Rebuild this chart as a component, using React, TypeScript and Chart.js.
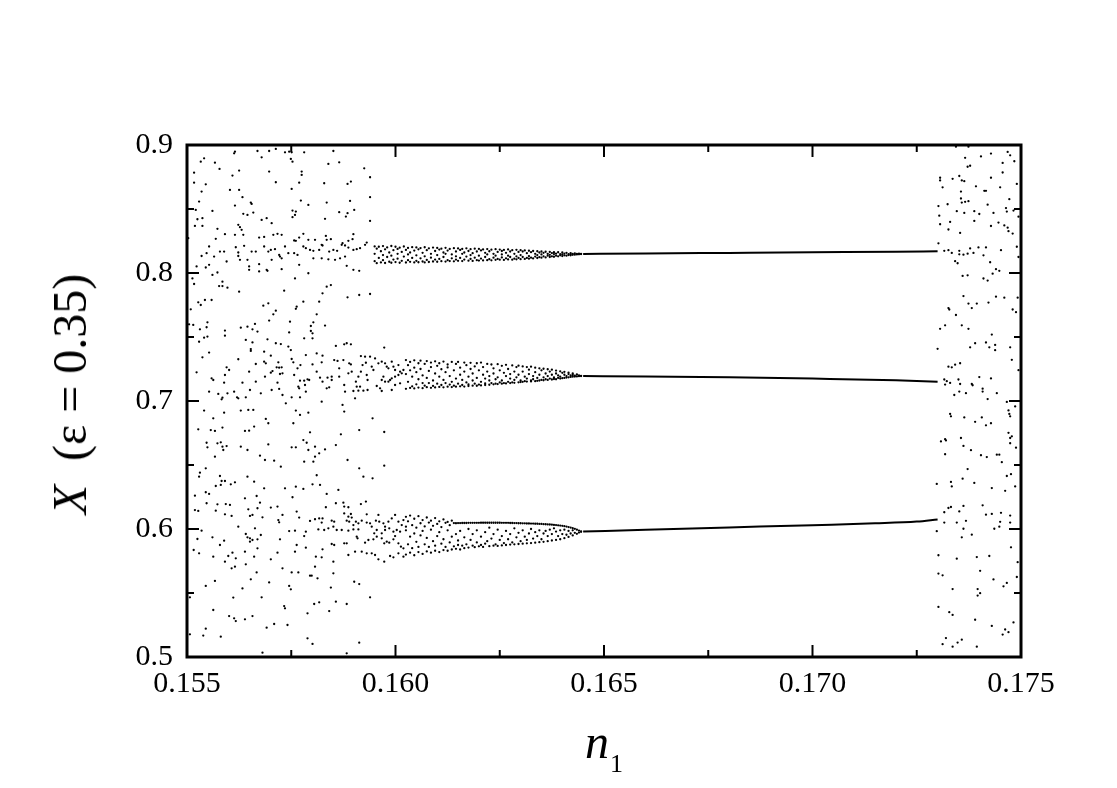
import React, { useEffect, useRef } from "react";
import { Chart, registerables } from "chart.js";

Chart.register(...registerables);

const FONT = '"Liberation Serif", "DejaVu Serif", "Times New Roman", serif';

const X_MIN = 0.155;
const X_MAX = 0.175;
const Y_MIN = 0.5;
const Y_MAX = 0.9;

const xMajorTicks = [0.155, 0.16, 0.165, 0.17, 0.175];
const xMinorTicks = [0.1575, 0.1625, 0.1675, 0.1725];
const yMajorTicks = [0.5, 0.6, 0.7, 0.8, 0.9];
const yMinorTicks = [0.55, 0.65, 0.75, 0.85];

const xTitleMain = "n";
const xTitleSub = "1";
const yTitleMain = "X";
const yTitleRest = "  (\u03b5 = 0.35)";

// chaotic region, left part (n1 < ~0.1595), upper third
const chaosLeftUpper: number[][] = [
  [.15615,.8948],[.15613,.8935],[.15669,.8953],[.15679,.8904],[.15697,.8953],[.15713,.8969],[.15735,.8943],[.15745,.8948],[.15751,.8943],[.15781,.8943],[.15851,.8953],[.15533,.887],[.15541,.8896],[.15567,.8862],[.15578,.8813],[.15609,.8761],[.15625,.88],[.15697,.8792],[.15749,.8891],[.15753,.887],[.15775,.8792],[.15775,.8766],[.15839,.8852],[.15865,.8865],[.15925,.8818],[.15939,.8748],[.15517,.8784],[.15517,.8706],[.15545,.8693],[.15535,.8636],[.15603,.8649],[.15625,.8649],[.15713,.8709],[.15751,.8657],[.15769,.8706],[.15829,.8701],[.15885,.8696],[.15893,.8714],[.15939,.8592],[.15529,.8558],[.15633,.8592],[.15653,.855],[.15655,.854],[.15615,.8527],[.15773,.8566],[.15791,.8532],[.15835,.855],[.15891,.8563],[.15521,.8493],[.15561,.8485],[.15635,.8462],[.15645,.8454],[.15659,.8472],[.15679,.8415],[.15691,.8428],[.15703,.8389],[.15753,.8488],[.15761,.848],[.15759,.8454],[.15753,.8436],[.15865,.8475],[.15885,.8467],[.15881,.8441],[.15901,.8493],[.15831,.8423],[.15939,.8407],[.15525,.842],[.15537,.8428],[.15519,.8368],[.15537,.8368],[.15623,.8376],[.15627,.8358],[.15631,.8337],[.15573,.8345],[.15591,.8303],[.15615,.8298],[.15635,.8298],[.15673,.8277],[.15685,.8282],[.15707,.8298],[.15717,.8306],[.15727,.8298],[.15503,.8272],[.15569,.8267],[.15779,.8306],[.15769,.8277],[.15757,.8254],[.15761,.8251],[.15791,.8259],[.15807,.8259],[.15823,.822],[.15833,.829],[.15835,.8259],[.15845,.8264],[.15899,.8303],[.15897,.8264],[.15887,.8251],[.15873,.8233],[.15553,.8207],[.15547,.8155],[.15535,.8133],[.15565,.8128],[.15579,.8167],[.15589,.8167],[.15617,.8201],[.15623,.816],[.15623,.8133],[.15637,.8212],[.15655,.8167],[.15665,.8167],[.15685,.8207],[.15695,.8167],[.15701,.818],[.15711,.8186],[.15721,.8141],[.15723,.8128],[.15727,.8115],[.15735,.8207],[.15743,.8155],[.15757,.8155],[.15765,.8141],[.15779,.8207],[.15785,.8194],[.15795,.818],[.15803,.8173],[.15817,.818],[.15825,.8215],[.15841,.8167],[.15851,.818],[.1586,.8173],[.15871,.822],[.15879,.8215],[.15887,.8199],[.15899,.818],[.15907,.8186],[.15915,.8194],[.15927,.822],[.15931,.8238],[.15523,.8051],[.15545,.8043],[.15553,.8064],[.15561,.7985],[.15573,.8004],[.15595,.809],[.15627,.8103],[.15645,.8103],[.15649,.8051],[.15649,.8025],[.15673,.8069],[.15673,.8012],[.15691,.8025],[.15693,.8017],[.15703,.8103],[.15727,.803],[.15769,.8064],[.15791,.7998],[.15803,.8115],[.15823,.8115],[.15839,.8107],[.15855,.8103],[.15867,.8115],[.15879,.8128],[.15883,.8056],[.15899,.8025],[.15913,.8017],[.15513,.7958],[.15517,.7914],[.15577,.7898],[.15585,.7898],[.15585,.7932],[.15597,.7885],[.15625,.7854],[.15733,.7862],[.15759,.7958],[.15835,.7893],[.15845,.7906],[.15825,.7841],[.15885,.781],[.15913,.7828],[.15939,.7836],[.15527,.7771],[.15533,.775],[.15543,.7789],[.15559,.7789],[.15509,.7716],[.15683,.7745],[.15695,.7763],[.15713,.7706],[.15707,.7677],[.15763,.7737],[.15761,.772],[.15779,.7776],[.15811,.7677],[.15817,.7776]
];

// chaotic region, left part, middle third
const chaosLeftMiddle: number[][] = [
  [.15505,.7599],[.15515,.7594],[.15531,.756],[.15547,.7576],[.15549,.7615],[.15591,.755],[.15591,.751],[.15629,.7573],[.15645,.7581],[.15657,.756],[.15663,.7602],[.15669,.7542],[.15697,.7628],[.15747,.762],[.15745,.7536],[.15797,.7586],[.15797,.7547],[.15801,.7529],[.15803,.7615],[.15831,.7589],[.15529,.7463],[.15541,.7495],[.15549,.7503],[.15553,.7378],[.15537,.7341],[.15641,.7477],[.15657,.7458],[.15653,.7406],[.15653,.7391],[.15693,.7482],[.15713,.7451],[.15725,.7445],[.15743,.7425],[.15749,.7398],[.15685,.7385],[.15701,.7354],[.15781,.749],[.15801,.749],[.15785,.7359],[.15811,.7372],[.15825,.7354],[.15857,.743],[.15877,.7443],[.15883,.7451],[.15893,.7443],[.15973,.7417],[.15523,.7224],[.15559,.7177],[.15563,.7164],[.15553,.7073],[.15575,.7055],[.15583,.7013],[.15585,.7026],[.15597,.706],[.15613,.7073],[.1562,.7029],[.15623,.7021],[.15641,.7029],[.15633,.7143],[.15623,.7326],[.15595,.7263],[.15601,.7242],[.15591,.7203],[.15589,.7143],[.15649,.7229],[.15651,.7086],[.15665,.7289],[.15665,.7151],[.15677,.706],[.15685,.7307],[.15687,.719],[.15689,.7294],[.15701,.7221],[.15703,.7086],[.15705,.7234],[.15715,.7263],[.15719,.7302],[.15721,.726],[.15723,.7211],[.15729,.7216],[.15727,.7263],[.15717,.7143],[.15721,.7094],[.15729,.7047],[.15751,.7328],[.15755,.7302],[.15757,.7203],[.15765,.7255],[.15772,.7281],[.15771,.7159],[.15767,.7112],[.15769,.7099],[.15781,.7159],[.15783,.7125],[.15785,.7073],[.15789,.7169],[.15793,.7164],[.15801,.7286],[.15811,.7229],[.15823,.7302],[.15819,.7182],[.15825,.7151],[.15835,.7099],[.15841,.7107],[.15837,.7182],[.15847,.719],[.15847,.7164],[.15853,.732],[.15861,.7313],[.15865,.7255],[.15865,.719],[.15875,.732],[.15877,.7125],[.15879,.7073],[.15889,.7294],[.15893,.7286],[.15887,.7216],[.15895,.7229],[.15899,.7078],[.15903,.7021],[.15905,.7151],[.15911,.719],[.15917,.7229],[.15917,.7351],[.15921,.7281],[.15927,.7346],[.15929,.7299],[.15939,.7346],[.15931,.7203],[.15933,.7164],[.15943,.7268],[.15947,.7242],[.15951,.7333],[.15955,.7117],[.15959,.7294],[.15967,.7307],[.15975,.7294],[.15979,.7268],[.15983,.7255],[.15991,.7307],[.15995,.7268],[.15999,.7242],[.16007,.7281],[.16011,.7229],[.16015,.7216],[.16019,.7242],[.15967,.7164],[.15971,.719],[.15975,.7151],[.15983,.7151],[.15987,.7164],[.15991,.7177],[.15999,.719],[.16007,.7203],[.16011,.7138],[.15999,.7125],[.15991,.7086],[.15967,.7078],[.15963,.7099],[.15933,.7086],[.15923,.7081],[.15911,.7081],[.15915,.7112],[.15907,.7112],[.15737,.6982],[.15751,.7029],[.15771,.7029],[.15823,.6995],[.15873,.6969],[.15877,.6917],[.15541,.6925],[.15563,.6865],[.15589,.6909],[.15629,.6925],[.15647,.693],[.15659,.693],[.15689,.686],[.15695,.6826],[.15755,.6826],[.15761,.6925],[.15771,.6891],[.15791,.6909],[.15945,.6865],[.15973,.6758],[.15527,.6779],[.15557,.6773],[.15567,.6766],[.15585,.6792],[.15639,.6766],[.15649,.6768],[.15661,.68],[.15795,.6755],[.15869,.674],[.15913,.6773],[.15547,.6674],[.15549,.6638],[.15567,.6565],[.15573,.6669],[.15581,.6677],[.15585,.6643],[.15587,.6617],[.15595,.6648],[.15629,.6643],[.15645,.6617],[.15695,.6661],[.15751,.6638],[.15761,.6638],[.15779,.6695],[.15787,.6674],[.15791,.6617],[.15807,.6643],[.15817,.6591],[.15807,.6565],[.15831,.6622],[.15857,.6656],[.15675,.6573],[.15687,.6539],[.15709,.6534],[.15725,.6487],[.15781,.6526],[.15803,.6526],[.15885,.6539],[.15913,.6474],[.15973,.6495],[.15531,.644],[.15529,.6409],[.15545,.6474],[.15579,.6414],[.15645,.6409],[.15811,.642],[.15923,.6409],[.15945,.6396]
];

// chaotic region, left part, lower third
const chaosLeftLower: number[][] = [
  [.15569,.6336],[.15581,.6344],[.15583,.6375],[.15591,.6375],[.15605,.6349],[.15615,.6365],[.15661,.637],[.15685,.6318],[.15735,.6318],[.15761,.6331],[.15779,.6313],[.15801,.6349],[.15819,.6344],[.15863,.6305],[.15519,.626],[.15545,.6287],[.15553,.6274],[.15639,.624],[.15667,.6258],[.15675,.6206],[.15753,.6248],[.15835,.6274],[.15547,.6201],[.15573,.6193],[.15593,.6195],[.15603,.6188],[.15647,.6154],[.15669,.6162],[.15701,.6167],[.15717,.6175],[.15729,.611],[.15763,.6136],[.15519,.6148],[.15527,.6141],[.15569,.6143],[.15591,.6115],[.15607,.6102],[.15651,.6102],[.15657,.611],[.15681,.6091],[.15719,.607],[.15721,.6052],[.15769,.6089],[.15795,.6063],[.15807,.6076],[.15817,.6083],[.15825,.6083],[.15823,.605],[.15833,.617],[.15857,.6201],[.15875,.6206],[.15877,.6175],[.15887,.617],[.15877,.6122],[.15887,.6096],[.15893,.6117],[.15895,.6089],[.15917,.6195],[.15929,.6214],[.15847,.6065],[.15853,.6057],[.15883,.6065],[.15889,.6057],[.15899,.6031],[.15905,.6057],[.15911,.6044],[.15919,.6065],[.15931,.6115],[.15931,.605],[.15939,.6044],[.15943,.6018],[.15953,.6065],[.15959,.611],[.15961,.6057],[.15971,.6044],[.15975,.6018],[.15983,.6057],[.15991,.6083],[.15999,.611],[.16007,.6057],[.16015,.6031],[.16019,.607],[.16025,.6018],[.15911,.5997],[.15899,.5997],[.15887,.5987],[.15871,.5992],[.15859,.5992],[.15851,.6018],[.15839,.6005],[.15829,.5992],[.15815,.5997],[.15785,.5979],[.15781,.5945],[.15759,.5987],[.15745,.5984],[.15955,.5992],[.15949,.5966],[.15967,.5966],[.15975,.5992],[.15985,.6005],[.15995,.5979],[.16003,.5992],[.16011,.5979],[.15907,.594],[.15909,.5927],[.15927,.5893],[.15935,.5914],[.15947,.5919],[.15955,.594],[.15967,.5927],[.15973,.5888],[.15979,.5901],[.15985,.5893],[.15995,.5919],[.15999,.5945],[.16007,.5888],[.16013,.5862],[.16019,.5849],[.15877,.5888],[.15883,.5888],[.15847,.5883],[.15853,.5875],[.15825,.5841],[.15785,.5854],[.15763,.5875],[.15759,.5823],[.15887,.5797],[.15903,.5823],[.15919,.5823],[.15931,.581],[.15943,.581],[.15951,.5797],[.15959,.5763],[.15973,.5745],[.15987,.5789],[.15995,.5779],[.16007,.581],[.16019,.5784],[.15535,.5987],[.15525,.5922],[.15561,.5935],[.15579,.5875],[.15589,.5909],[.15623,.6018],[.15641,.5961],[.15645,.5935],[.15651,.5927],[.15657,.5914],[.15663,.6005],[.15669,.5919],[.15677,.5953],[.15723,.5919],[.15651,.5901],[.15516,.5836],[.15529,.581],[.15563,.5784],[.15599,.5789],[.15609,.5815],[.15591,.5745],[.15617,.5771],[.15615,.5706],[.15607,.5693],[.15639,.5823],[.15641,.5724],[.15661,.5784],[.15669,.5849],[.15701,.5763],[.15717,.5815],[.15729,.5693],[.15751,.5661],[.15767,.5661],[.15795,.5635],[.15799,.5635],[.15807,.5706],[.15813,.5615],[.15823,.5779],[.15809,.5784],[.15851,.5745],[.15851,.5654],[.15667,.5661],[.15653,.5607],[.15697,.5583],[.15745,.5555],[.15749,.5529],[.15567,.5594],[.15545,.5555],[.15507,.5466],[.15611,.5464],[.15633,.5536],[.15679,.5466],[.15733,.5398],[.15735,.538],[.15805,.5414],[.15817,.5427],[.15845,.5542],[.15857,.5432],[.15883,.5414],[.15901,.5588],[.15913,.557],[.15939,.5466],[.15563,.5367],[.15601,.532],[.15613,.5302],[.15617,.5281],[.15639,.5294],[.15657,.532],[.15691,.5229],[.15709,.5258],[.15741,.525],[.15789,.5341],[.15841,.5359],[.15545,.5221],[.15539,.5167],[.15507,.5177],[.15581,.5159],[.15789,.5146],[.15801,.5102],[.15913,.5112],[.15681,.5034],[.15883,.5029]
];

// chaotic region, right part (n1 > ~0.173)
const chaosRight: number[][] = [
  [.17344,.8987],[.17374,.8987],[.17366,.89],[.17372,.883],[.17378,.8838],[.17404,.8911],[.17428,.8933],[.17456,.886],[.17468,.8946],[.17474,.8919],[.17484,.8873],[.17306,.8744],[.17306,.8723],[.17336,.8736],[.17352,.8758],[.17358,.8723],[.17364,.8717],[.17392,.8677],[.17412,.8642],[.17416,.8642],[.17428,.8744],[.17456,.8785],[.1749,.8696],[.17312,.8669],[.17356,.8636],[.17356,.8582],[.17358,.855],[.17366,.8556],[.17374,.8561],[.1745,.8669],[.17472,.8577],[.17302,.8523],[.17324,.8537],[.17346,.8483],[.17364,.8469],[.17388,.8483],[.174,.8461],[.1742,.8534],[.17434,.8469],[.17464,.8507],[.17466,.848],[.17482,.8488],[.17494,.844],[.17304,.8448],[.17306,.8381],[.1733,.8399],[.17326,.834],[.17354,.8313],[.17388,.8407],[.17428,.8367],[.17446,.8394],[.1746,.8372],[.17468,.8354],[.1747,.8327],[.1748,.8308],[.1749,.8205],[.17494,.8125],[.17452,.8178],[.17302,.8232],[.17316,.8173],[.17326,.8178],[.17334,.8157],[.17352,.8173],[.17352,.8146],[.17362,.8143],[.17372,.8151],[.17378,.8192],[.17386,.8157],[.17398,.82],[.1741,.8138],[.17416,.82],[.17426,.8084],[.17342,.8092],[.17348,.8076],[.1736,.7977],[.17372,.7982],[.1741,.7957],[.1742,.7941],[.17432,.7995],[.1744,.803],[.17448,.8017],[.17362,.782],[.17374,.7761],[.17382,.7726],[.17394,.7761],[.17422,.7769],[.1744,.7815],[.1746,.7807],[.1748,.7715],[.17488,.7694],[.17492,.7807],[.17326,.7726],[.17328,.7715],[.17344,.7672],[.17306,.7564],[.17318,.7591],[.17358,.7591],[.17374,.7564],[.17378,.7419],[.1739,.7451],[.17416,.7457],[.17424,.7419],[.1743,.7519],[.17438,.7438],[.17438,.7397],[.17474,.7419],[.17478,.7322],[.173,.7408],[.17494,.7241],[.17326,.7268],[.17334,.7263],[.17342,.7284],[.17354,.7295],[.17316,.7168],[.17318,.7128],[.17322,.7155],[.1733,.7141],[.1735,.7168],[.17354,.7133],[.17352,.7074],[.1734,.7047],[.17368,.7061],[.17382,.7133],[.17384,.7123],[.174,.7187],[.17408,.7096],[.17408,.7074],[.1742,.7015],[.17428,.7176],[.17442,.7061],[.17466,.6993],[.1747,.6926],[.17472,.6899],[.17474,.688],[.17486,.6958],[.1733,.6899],[.17332,.688],[.17364,.6872],[.1739,.6837],[.17406,.6872],[.17416,.681],[.17428,.6826],[.1747,.6751],[.17308,.6684],[.17318,.6702],[.1732,.6692],[.17318,.6584],[.17356,.6711],[.17362,.6649],[.1738,.6616],[.17404,.6576],[.17418,.6562],[.17442,.6581],[.17448,.6581],[.17454,.6522],[.17474,.6711],[.17478,.6724],[.17488,.6635],[.17474,.667],[.17372,.6468],[.1736,.6393],[.17388,.636],[.17298,.6352],[.17332,.6368],[.17334,.6333],[.1743,.632],[.17462,.6298],[.17466,.6414],[.17476,.6428],[.17486,.6333],[.17316,.6131],[.17316,.605],[.17326,.6164],[.17332,.6172],[.17346,.605],[.17352,.6137],[.17362,.618],[.17368,.6064],[.17362,.6002],[.17358,.5935],[.17382,.5956],[.17408,.6185],[.17416,.6112],[.1743,.6118],[.17436,.6002],[.17448,.6018],[.1745,.6056],[.17452,.6126],[.17474,.6105],[.17474,.605],[.17476,.5857],[.17298,.5983],[.17302,.5795],[.17346,.5768],[.17394,.5781],[.17424,.5789],[.17402,.5673],[.17434,.5606],[.17458,.5552],[.17466,.5579],[.17492,.5741],[.1749,.5625],[.17302,.5652],[.17312,.5638],[.17336,.5531],[.17396,.5531],[.17396,.548],[.17402,.5499],[.17302,.5391],[.17328,.535],[.17336,.5329],[.1739,.5291],[.1743,.5243],[.17456,.5175],[.17462,.5215],[.1747,.5194],[.17482,.527],[.17312,.51],[.1732,.5148],[.17336,.5081],[.17348,.5113],[.17358,.5135],[.17394,.5081]
];

// dense bands approaching the period-3 window: [n1, X values...]
const upperBand: number[][] = [
  [.1595,.8208,.8092,.815],[.15955,.819,.8077],[.1596,.8205,.8118],[.15965,.817,.8083],[.1597,.821,.81,.814],[.15975,.8185,.8078],[.1598,.82,.8125],[.15985,.816,.8088],[.1599,.8211,.808,.8135],[.15995,.8178,.8105],
  [.16,.8205,.8085],[.16005,.8188,.8112,.815],[.1601,.8198,.808],[.16015,.8165,.8095],[.1602,.8207,.8128],[.16025,.818,.8082],[.1603,.8196,.81,.8145],[.16035,.816,.8087],[.1604,.8202,.8118],[.16045,.8175,.8083],
  [.1605,.82,.8095,.8138],[.16055,.8185,.8084],[.1606,.8195,.8115],[.16065,.8158,.809],[.1607,.8201,.8083,.813],[.16075,.8178,.8102],[.1608,.8193,.8086],[.16085,.815,.812],[.1609,.8199,.809],[.16095,.8172,.8105],
  [.161,.8196,.8088,.814],[.16105,.8183,.811],[.1611,.819,.8092],[.16115,.816,.8125],[.1612,.8197,.8089,.815],[.16125,.8175,.81],[.1613,.8188,.8093],[.16135,.8145,.8115],[.1614,.8194,.8091],[.16145,.8168,.8105,.813],
  [.1615,.8192,.8095],[.16155,.818,.8118],[.1616,.8188,.8093,.815],[.16165,.816,.8105],[.1617,.8193,.8128],[.16175,.8172,.8096],[.1618,.8186,.811,.814],[.16185,.8155,.8094],[.1619,.819,.812],[.16195,.8168,.81],
  [.162,.8188,.8097,.8135],[.16205,.8176,.8113],[.1621,.8184,.8098],[.16215,.8158,.8125],[.1622,.8187,.81,.8145],[.16225,.817,.8108],[.1623,.8182,.8099],[.16235,.815,.812],[.1624,.8186,.8103,.8135],[.16245,.8165,.811],
  [.1625,.8183,.8104],[.16255,.8172,.8122,.8145],[.1626,.818,.8102],[.16265,.8158,.8115],[.1627,.8184,.8106,.8135],[.16275,.8168,.8125],[.1628,.8178,.8104],[.16285,.815,.8112],[.1629,.8181,.813,.8107],[.16295,.8165,.8118],
  [.163,.8178,.8108,.814],[.16305,.8168,.8125],[.1631,.8176,.811],[.16315,.8155,.8118],[.1632,.8174,.8132,.8112],[.16325,.8163,.812],[.1633,.8172,.8114],[.16335,.815,.8128],[.1634,.817,.8117,.814],[.16345,.816,.8124],
  [.1635,.8168,.812,.8145],[.16355,.8158,.813],[.1636,.8166,.8122],[.16365,.815,.8135],[.1637,.8165,.8125,.8142],[.16375,.8156,.813],[.1638,.8163,.8127,.8148],[.16385,.8152,.8135],[.1639,.8162,.813],[.16395,.8148,.8138],
  [.164,.816,.8132,.8145],[.16405,.8152,.8138],[.1641,.8158,.8135],[.16415,.8148,.814],[.1642,.8156,.8138,.8147],[.16425,.815,.8142],[.1643,.8154,.8143],[.16435,.8149,.8145],[.1644,.8152,.8146],[.16445,.815,.8148]
];

const middleBand: number[][] = [
  [.16025,.732,.7095,.721],[.1603,.728,.715],[.16035,.7305,.7102,.724],[.1604,.719,.7115],[.16045,.7318,.726,.7098],[.1605,.7225,.713],[.16055,.7295,.7105,.717],[.1606,.7315,.725],[.16065,.72,.71,.714],[.1607,.729,.712],
  [.16075,.7312,.718,.7108],[.1608,.7235,.714],[.16085,.73,.7103,.7265],[.1609,.716,.7118],[.16095,.731,.7215,.7106],[.161,.7275,.7135],[.16105,.7295,.711,.719],[.1611,.7248,.7125],[.16115,.7308,.7165,.7107],[.1612,.7225,.714],
  [.16125,.7285,.7112,.7262],[.1613,.7195,.7128],[.16135,.7305,.715,.7109],[.1614,.724,.712],[.16145,.729,.7175,.7112],[.1615,.7305,.7135],[.16155,.726,.7115,.7205],[.1616,.7165,.7125],[.16165,.73,.723,.7113],[.1617,.728,.7145],
  [.16175,.719,.7117,.713],[.1618,.7298,.725],[.16185,.7215,.712,.716],[.1619,.727,.7135],[.16195,.7295,.718,.7119],[.162,.724,.7128],[.16205,.73,.715,.7122],[.1621,.7265,.7205],[.16215,.7175,.7125,.7138],[.1622,.729,.723],
  [.16225,.7195,.7127,.716],[.1623,.7285,.714],[.16235,.7255,.713,.7215],[.1624,.717,.7135],[.16245,.7288,.7185,.7132],[.1625,.724,.7145],[.16255,.7275,.7135,.716],[.1626,.722,.714],[.16265,.7283,.7195,.7137],[.1627,.725,.715],
  [.16275,.7175,.714,.721],[.1628,.7278,.7145],[.16285,.723,.7142,.7165],[.1629,.7265,.7185],[.16295,.7276,.7146,.7205],[.163,.716,.7148],[.16305,.727,.723,.715],[.1631,.719,.7155],[.16315,.7265,.7152,.7175],[.1632,.7245,.721],
  [.16325,.7268,.716,.7153],[.1633,.7195,.717],[.16335,.726,.7155,.7225],[.1634,.718,.7158],[.16345,.7255,.7205,.716],[.1635,.724,.7165],[.16355,.7252,.7162,.7185],[.1636,.7215,.717],[.16365,.7248,.7165,.7195],[.1637,.723,.7175],
  [.16375,.7245,.7168,.7205],[.1638,.7185,.7172],[.16385,.7238,.717,.7215],[.1639,.72,.718],[.16395,.7232,.7175,.719],[.164,.722,.7178],[.16405,.7228,.718,.7205],[.1641,.7195,.7183],[.16415,.7222,.7185,.721],[.1642,.72,.7188],
  [.16425,.7215,.719,.7203],[.1643,.7198,.7191],[.16435,.7208,.7192],[.1644,.72,.7194],[.16445,.7197,.7195]
];

const lowerBand: number[][] = [
  [.16025,.6095,.599,.58],[.1603,.606,.588],[.16035,.6105,.594,.5815],[.1604,.603,.585],[.16045,.608,.5965,.5795],[.1605,.601,.59],[.16055,.61,.586,.582],[.1606,.6045,.595],[.16065,.607,.5985,.5805],[.1607,.602,.588],
  [.16075,.609,.593,.5825],[.1608,.605,.586],[.16085,.6065,.5995,.5815],[.1609,.6025,.5905],[.16095,.6085,.587,.583],[.161,.604,.5945],[.16105,.606,.5975,.582],[.1611,.6015,.5885],[.16115,.6075,.592,.5835],[.1612,.6048,.586],
  [.16125,.6055,.599,.583],[.1613,.603,.5895],[.16135,.6065,.594,.584],[.1614,.6046,.5865],[.16145,.6045,.596,.5845],[.1615,.6046,.5875,.591],[.16155,.6046,.5985,.584],[.1616,.6047,.587],[.16165,.6047,.5935,.585],[.1617,.6047,.588],
  [.16175,.6048,.6,.5855],[.1618,.6048,.5915],[.16185,.6048,.587,.596],[.1619,.6048,.5858],[.16195,.6048,.5895,.599],[.162,.6048,.5865],[.16205,.6049,.594,.5875],[.1621,.6049,.586],[.16215,.6049,.5975,.5885],[.1622,.6049,.5905],
  [.16225,.6049,.5866,.601],[.1623,.6049,.5925],[.16235,.6049,.587,.596],[.1624,.6049,.588],[.16245,.6049,.5995,.5868],[.1625,.6049,.5915],[.16255,.6048,.5872,.5945],[.1626,.6048,.589],[.16265,.6048,.5985,.5875],[.1627,.6048,.592],
  [.16275,.6047,.5878,.596],[.1628,.6047,.5895],[.16285,.6046,.6005,.588],[.1629,.6046,.5935],[.16295,.6045,.5883,.597],[.163,.6045,.5905],[.16305,.6044,.5885,.599],[.1631,.6044,.594],[.16315,.6043,.5888,.5915],[.1632,.6043,.5965],
  [.16325,.6042,.589,.6],[.1633,.6042,.5925],[.16335,.6041,.5893,.5975],[.1634,.6041,.5945],[.16345,.604,.5897,.599],[.1635,.604,.592],[.16355,.6038,.59,.5965],[.1636,.6037,.5985],[.16365,.6036,.5905,.5945],[.1637,.6035,.5995],
  [.16375,.6034,.591,.596],[.1638,.6032,.6005],[.16385,.6031,.5915,.598],[.1639,.6029,.5945],[.16395,.6027,.592,.599],[.164,.6025,.596],[.16405,.6022,.5928,.5995],[.1641,.6019,.5955],[.16415,.6015,.5938,.5985],[.1642,.6011,.5965],
  [.16425,.6006,.595,.599],[.1643,.6001,.597],[.16435,.5995,.5962],[.1644,.5988,.5972],[.16445,.5982,.5978]
];

// period-3 window branches
const upperBranch: number[][] = [[.1645,.8149],[.166,.8152],[.168,.8157],[.17,.8162],[.172,.8166],[.173,.817]];
const middleBranch: number[][] = [[.1645,.7195],[.166,.7192],[.168,.7185],[.17,.7175],[.172,.7162],[.173,.715]];
const lowerBranch: number[][] = [[.1645,.598],[.166,.5994],[.168,.6012],[.17,.603],[.1715,.6044],[.1725,.6058],[.173,.6075]];

const pairsToPoints = (arr: number[][]) => arr.map(([x, y]) => ({ x, y }));
const columnsToPoints = (cols: number[][]) => {
  const out: { x: number; y: number }[] = [];
  for (const c of cols) for (let i = 1; i < c.length; i++) out.push({ x: c[0], y: c[i] });
  return out;
};

const frameTicksPlugin = {
  id: "frameTicks",
  afterDatasetsDraw(chart: any) {
    const { ctx, chartArea: a, scales } = chart;
    const xs = scales.x;
    const ys = scales.y;
    ctx.save();
    ctx.strokeStyle = "#000";
    ctx.lineWidth = 2;
    const major = 12;
    const minor = 7;
    const tick = (x1: number, y1: number, x2: number, y2: number) => {
      ctx.beginPath();
      ctx.moveTo(x1, y1);
      ctx.lineTo(x2, y2);
      ctx.stroke();
    };
    for (const v of xMajorTicks) {
      const p = xs.getPixelForValue(v);
      tick(p, a.bottom, p, a.bottom - major);
      tick(p, a.top, p, a.top + major);
    }
    for (const v of xMinorTicks) {
      const p = xs.getPixelForValue(v);
      tick(p, a.bottom, p, a.bottom - minor);
      tick(p, a.top, p, a.top + minor);
    }
    for (const v of yMajorTicks) {
      const p = ys.getPixelForValue(v);
      tick(a.left, p, a.left + major, p);
      tick(a.right, p, a.right - major, p);
    }
    for (const v of yMinorTicks) {
      const p = ys.getPixelForValue(v);
      tick(a.left, p, a.left + minor, p);
      tick(a.right, p, a.right - minor, p);
    }
    ctx.lineWidth = 3;
    ctx.strokeRect(a.left, a.top, a.right - a.left, a.bottom - a.top);
    ctx.restore();
  },
};

export default function App() {
  const ref = useRef<HTMLCanvasElement>(null);

  useEffect(() => {
    document.body.style.margin = "0";
    const canvas = ref.current;
    if (!canvas) return;
    const points = [
      ...pairsToPoints(chaosLeftUpper),
      ...pairsToPoints(chaosLeftMiddle),
      ...pairsToPoints(chaosLeftLower),
      ...columnsToPoints(upperBand),
      ...columnsToPoints(middleBand),
      ...columnsToPoints(lowerBand),
      ...pairsToPoints(chaosRight),
    ];
    const lineStyle = {
      type: "line" as const,
      borderColor: "#000",
      borderWidth: 2,
      pointRadius: 0,
      showLine: true,
      fill: false,
      cubicInterpolationMode: "monotone" as const,
    };
    const chart = new Chart(canvas, {
      type: "scatter",
      data: {
        datasets: [
          {
            label: "X",
            data: points,
            pointRadius: 1.15,
            pointHoverRadius: 0,
            backgroundColor: "#000",
            borderWidth: 0,
          },
          { ...lineStyle, label: "upper", data: pairsToPoints(upperBranch) },
          { ...lineStyle, label: "middle", data: pairsToPoints(middleBranch) },
          { ...lineStyle, label: "lower", data: pairsToPoints(lowerBranch) },
        ] as any,
      },
      options: {
        animation: false,
        responsive: false,
        devicePixelRatio: 1,
        events: [],
        layout: { padding: { top: 145, right: 96, left: 0, bottom: 0 } },
        plugins: { legend: { display: false }, tooltip: { enabled: false } },
        scales: {
          x: {
            type: "linear",
            min: X_MIN,
            max: X_MAX,
            afterBuildTicks: (s: any) => {
              s.ticks = xMajorTicks.map((v) => ({ value: v }));
            },
            afterFit: (s: any) => {
              s.height = 131;
            },
            grid: { display: false, drawTicks: false },
            border: { display: false },
            ticks: {
              padding: 9,
              color: "#000",
              maxRotation: 0,
              autoSkip: false,
              font: { family: FONT, size: 30 },
              callback: (v: any) => Number(v).toFixed(3),
            },
          },
          y: {
            type: "linear",
            min: Y_MIN,
            max: Y_MAX,
            afterBuildTicks: (s: any) => {
              s.ticks = yMajorTicks.map((v) => ({ value: v }));
            },
            afterFit: (s: any) => {
              s.width = 187;
            },
            grid: { display: false, drawTicks: false },
            border: { display: false },
            ticks: {
              padding: 14,
              color: "#000",
              autoSkip: false,
              font: { family: FONT, size: 30 },
              callback: (v: any) => Number(v).toFixed(1),
            },
          },
        },
      } as any,
      plugins: [frameTicksPlugin],
    });
    return () => chart.destroy();
  }, []);

  return (
    <div style={{ position: "relative", width: 1117, height: 788, background: "#fff", overflow: "hidden" }}>
      <canvas ref={ref} width={1117} height={788} style={{ position: "absolute", left: 0, top: 0 }} />
      <div
        style={{
          position: "absolute",
          left: 70,
          top: 394,
          transform: "translate(-50%, -50%) rotate(-90deg)",
          fontFamily: FONT,
          fontSize: 48,
          lineHeight: "48px",
          whiteSpace: "pre",
          color: "#000",
        }}
      >
        <i>{yTitleMain}</i>
        {yTitleRest}
      </div>
      <div
        style={{
          position: "absolute",
          left: 604,
          top: 718,
          transform: "translateX(-50%)",
          fontFamily: FONT,
          fontSize: 48,
          lineHeight: "48px",
          whiteSpace: "nowrap",
          color: "#000",
        }}
      >
        <i>{xTitleMain}</i>
        <span style={{ fontSize: 26, position: "relative", top: 14, marginLeft: 1 }}>{xTitleSub}</span>
      </div>
    </div>
  );
}
